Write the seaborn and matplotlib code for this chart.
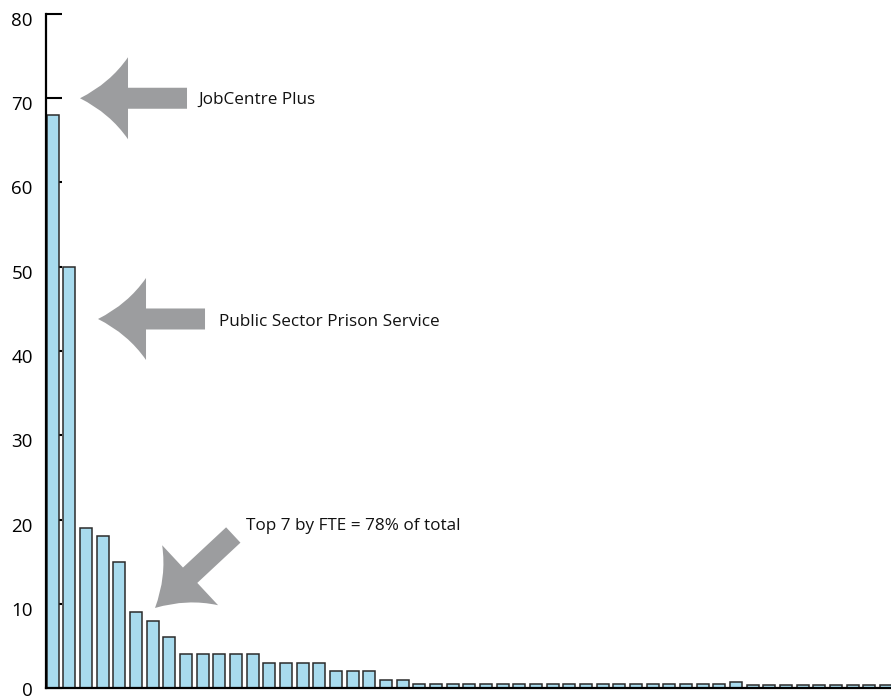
import numpy as np
import pandas as pd
import matplotlib
matplotlib.use("Agg")
import matplotlib.pyplot as plt
import matplotlib.transforms as mtransforms
from matplotlib.path import Path
from matplotlib.patches import PathPatch
import seaborn as sns

# Bar heights, sorted largest first
fte = [68, 50, 19, 18, 15, 9, 8, 6,
       4, 4, 4, 4, 4,
       3, 3, 3, 3,
       2, 2, 2,
       1, 1,
       0.5, 0.5, 0.5, 0.5, 0.5, 0.5, 0.5, 0.5, 0.5, 0.5,
       0.5, 0.5, 0.5, 0.5, 0.5, 0.5, 0.5, 0.5, 0.5,
       0.7,
       0.3, 0.3, 0.3, 0.3, 0.3, 0.3, 0.3, 0.3, 0.3]
units = list(range(len(fte)))
y_ticks = [0, 10, 20, 30, 40, 50, 60, 70, 80]

# annotation text and where its arrow points (data coords)
notes = ["JobCentre Plus", "Public Sector Prison Service", "Top 7 by FTE = 78% of total"]
note_xy = [(8.72, 69.8), (9.98, 43.5), (11.6, 19.2)]
arrow_tip = [(1.64, 70), (2.72, 43.8), (6.14, 9.5)]
arrow_angle = [180, 180, 223]   # direction the arrow points, degrees

df = pd.DataFrame({"unit": units, "fte": fte})

sns.set_style("white")
plt.rcParams["font.family"] = ["Open Sans", "DejaVu Sans"]

fig = plt.figure(figsize=(8.91, 7.0), dpi=100)
ax = fig.add_axes([46 / 891, 12 / 700, 1 - 46 / 891, 674 / 700])

sns.barplot(data=df, x="unit", y="fte", order=units, color="#a8dbee",
            saturation=1, edgecolor="#2b2b2b", linewidth=1.1, width=0.72, ax=ax)

ax.set_xlim(-0.4, 50.29)
ax.set_ylim(0, 80)
ax.set_yticks(y_ticks)
ax.set_xticks([])
ax.set_xlabel("")
ax.set_ylabel("")
ax.set_axisbelow(True)
ax.tick_params(axis="y", left=True, direction="in", length=11.5, width=1.5,
               labelsize=13.5, pad=9.5, colors="black")
# labels sit a little below their ticks in the original (0 kept inside the frame)
for val, lab in zip(y_ticks, ax.get_yticklabels()):
    shift = 1.5 if val == 0 else 5
    lab.set_transform(lab.get_transform() +
                      mtransforms.ScaledTranslation(0, -shift / 100, fig.dpi_scale_trans))
for side in ["top", "right"]:
    ax.spines[side].set_visible(False)
for side in ["left", "bottom"]:
    ax.spines[side].set_linewidth(1.6)
    ax.spines[side].set_color("black")


def fat_arrow(tip, angle):
    # concave-headed block arrow, sizes in pixels, pointing along +x then rotated
    head_len, head_hw, shaft_hw, shaft_len = 48, 41, 10.5, 59
    verts = [(0, 0),
             (30, 15), (head_len, head_hw),
             (head_len, shaft_hw),
             (head_len + shaft_len, shaft_hw),
             (head_len + shaft_len, -shaft_hw),
             (head_len, -shaft_hw),
             (head_len, -head_hw),
             (30, -15), (0, 0)]
    codes = [Path.MOVETO, Path.CURVE3, Path.CURVE3, Path.LINETO, Path.LINETO,
             Path.LINETO, Path.LINETO, Path.LINETO, Path.CURVE3, Path.CURVE3]
    tx, ty = ax.transData.transform(tip)
    tr = mtransforms.Affine2D().rotate_deg(angle + 180).translate(tx, ty)
    patch = PathPatch(Path(verts, codes), transform=tr, facecolor="#9c9d9f",
                      edgecolor="none", zorder=5)
    fig.add_artist(patch)


for tip, ang in zip(arrow_tip, arrow_angle):
    fat_arrow(tip, ang)

for txt, (x, y) in zip(notes, note_xy):
    ax.text(x, y, txt, fontsize=12.3, ha="left", va="center", color="#111111")

fig.savefig("out.png", dpi=100)
